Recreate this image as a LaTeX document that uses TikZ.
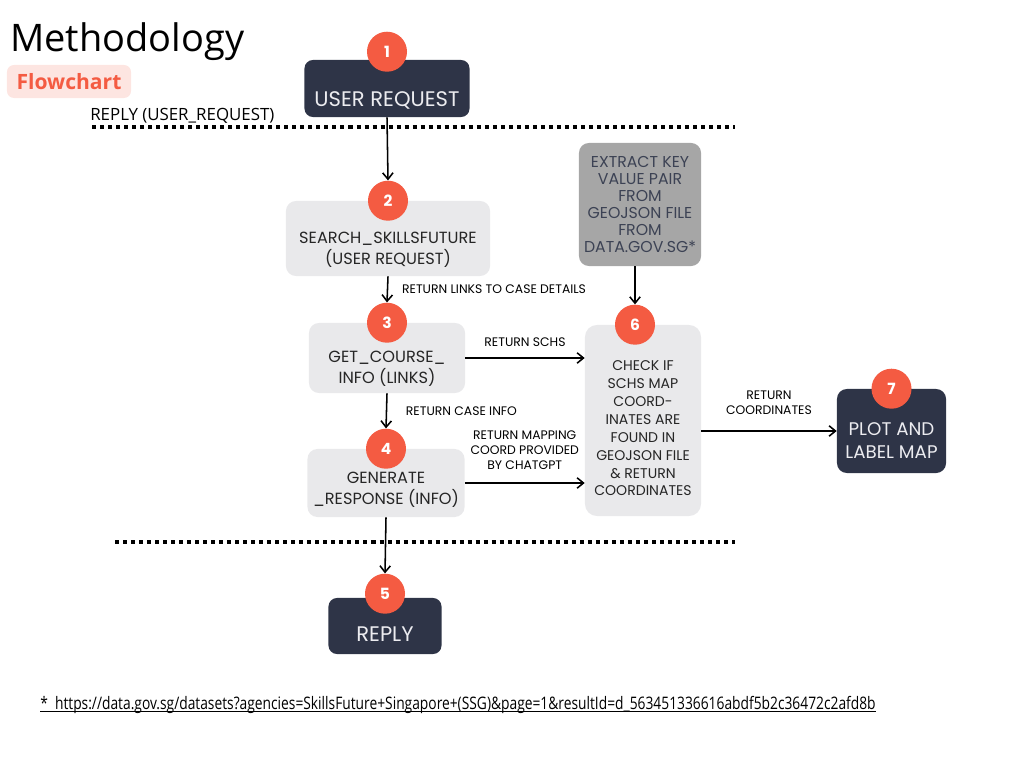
\documentclass[tikz,border=0pt]{standalone}
\usepackage{fontspec}
\setmainfont{Poppins}
\newfontfamily\headfont{Open Sans}
\newfontfamily\notefont[FakeStretch=0.8]{Open Sans}
\usepackage{graphicx}
\usetikzlibrary{arrows.meta, positioning, calc}
\definecolor{mthred}{RGB}{244, 91, 66}
\definecolor{mthpink}{RGB}{253, 229, 225}
\definecolor{mthnavy}{RGB}{46, 52, 71}
\definecolor{mthlight}{RGB}{233, 233, 235}
\definecolor{mthgray}{RGB}{166, 166, 166}
\definecolor{mthslate}{RGB}{60, 66, 84}
\definecolor{mthwhite}{RGB}{236, 236, 240}

\begin{document}
\begin{tikzpicture}[x=0.025cm, y=-0.025cm,
    darkbox/.style={fill=mthnavy, rounded corners=6pt, inner sep=0pt},
    lightbox/.style={fill=mthlight, rounded corners=7pt, inner sep=0pt},
    badge/.style={circle, fill=mthred, text=white, minimum size=1cm,
                  inner sep=0pt, font=\fontsize{11}{13}\selectfont\bfseries},
    boxtext/.style={align=center, text=black!85, font=\fontsize{11.5}{15}\selectfont},
    darktext/.style={align=center, text=mthwhite, font=\fontsize{15}{17}\selectfont},
    flow/.style={-{Straight Barb[length=1.6mm, width=2.6mm]}, line width=1.1pt},
    steplabel/.style={align=center, font=\fontsize{8.8}{10.6}\selectfont},
    divider/.style={line width=2.85pt, dash pattern=on 2.85pt off 2.85pt}]

    \useasboundingbox (0,0) rectangle (1024,768);

    % heading
    \node[anchor=west, inner sep=0pt, font=\headfont\fontsize{27}{30}\selectfont] (title) at (10,42) {Methodology};
    \node[fill=mthpink, rounded corners=5pt, minimum width=3.1cm, minimum height=0.825cm,
          text=mthred, font=\headfont\bfseries\fontsize{15}{18}\selectfont] (tag) at (69,81.5) {Flowchart};
    \node[anchor=west, inner sep=0pt, font=\headfont\fontsize{12}{14}\selectfont] (replytag) at (90,116) {REPLY (USER\_REQUEST)};

    % dotted dividers
    \coordinate (divtopl) at (92,127);
    \coordinate (divtopr) at (735,127);
    \coordinate (divbotl) at (115,542);
    \coordinate (divbotr) at (735,542);
    \draw[divider] (divtopl) -- (divtopr);
    \draw[divider] (divbotl) -- (divbotr);

    % steps
    \node[darkbox, minimum width=4.125cm, minimum height=1.425cm,
          label={[darktext, yshift=-0.3cm]center:USER REQUEST}] (req) at (387,88.5) {};
    \node[lightbox, minimum width=5.1cm, minimum height=1.875cm,
          label={[boxtext, yshift=-0.29cm]center:{SEARCH\_SKILLSFUTURE\\(USER REQUEST)}}] (search) at (388,238.5) {};
    \node[lightbox, minimum width=3.9cm, minimum height=1.75cm,
          label={[boxtext, yshift=-0.26cm]center:{GET\_COURSE\_\\INFO (LINKS)}}] (course) at (387,358) {};
    \node[lightbox, minimum width=3.925cm, minimum height=1.7cm,
          label={[boxtext, yshift=-0.18cm]center:{GENERATE\\\_RESPONSE (INFO)}}] (gen) at (386,483) {};
    \node[darkbox, minimum width=2.825cm, minimum height=1.4cm,
          label={[darktext, yshift=-0.2cm]center:REPLY}] (reply) at (385,626) {};
    \node[fill=mthgray, rounded corners=7pt, minimum width=3.05cm, minimum height=3.075cm,
          align=center, text=mthslate, font=\fontsize{11.2}{12.2}\selectfont] (extract) at (640,204.5)
      {EXTRACT KEY\\VALUE PAIR\\FROM\\GEOJSON FILE\\FROM\\DATA.GOV.SG*};
    \node[lightbox, rounded corners=8.5pt, minimum width=2.9cm, minimum height=4.775cm,
          label={[boxtext, font=\fontsize{10}{12.7}\selectfont, yshift=-0.2cm]center:{CHECK IF\\SCHS MAP\\COORD-\\INATES ARE\\FOUND IN\\GEOJSON FILE\\\& RETURN\\COORDINATES}}] (check) at (643,420.5) {};
    \node[darkbox, rounded corners=7pt, minimum width=2.725cm, minimum height=2.1cm,
          label={[darktext, font=\fontsize{13}{16.4}\selectfont, yshift=-0.25cm]center:{PLOT AND\\LABEL MAP}}] (plot) at (891.5,431) {};

    % numbered badges
    \node[badge] (n1) at ([yshift=0.2cm]req.north) {1};
    \node[badge] (n2) at (search.north) {2};
    \node[badge] (n3) at (course.north) {3};
    \node[badge] (n4) at (gen.north) {4};
    \node[badge] (n5) at ([yshift=0.1cm]reply.north) {5};
    \node[badge] (n6) at ([xshift=-0.2cm]check.north) {6};
    \node[badge] (n7) at (plot.north) {7};

    % connectors
    \draw[flow] (req.south) -- (n2.north);
    \draw[flow] (search.south) -- node[steplabel, right=0.23cm] {RETURN LINKS TO CASE DETAILS} (n3.north);
    \draw[flow] (course.south) -- node[steplabel, right=0.35cm] {RETURN CASE INFO} (n4.north);
    \draw[flow] (gen.south) -- (n5.north);
    \draw[flow] (course.east) -- node[steplabel, above=0.15cm] {RETURN SCHS} (course.east -| check.west);
    \draw[flow] (gen.east) -- node[steplabel, above=0.2cm] {RETURN MAPPING\\COORD PROVIDED\\BY CHATGPT} (gen.east -| check.west);
    \draw[flow] (n6.north |- extract.south) -- (n6.north);
    \draw[flow] (check.east |- plot.west) -- node[steplabel, above=0.28cm] {RETURN\\COORDINATES} (plot.west);

    % source note
    \node[anchor=base west, inner sep=0pt] (note) at (40,709)
      {\resizebox{20.875cm}{!}{\notefont\fontsize{12}{14}\selectfont *\ \ https://data.gov.sg/datasets?agencies=SkillsFuture+Singapore+(SSG)\&page=1\&resultId=d\_563451336616abdf5b2c36472c2afd8b}};
    \draw[line width=0.75pt] ([yshift=-1.8pt]note.base west) -- ([yshift=-1.8pt]note.base east);
\end{tikzpicture}
\end{document}
